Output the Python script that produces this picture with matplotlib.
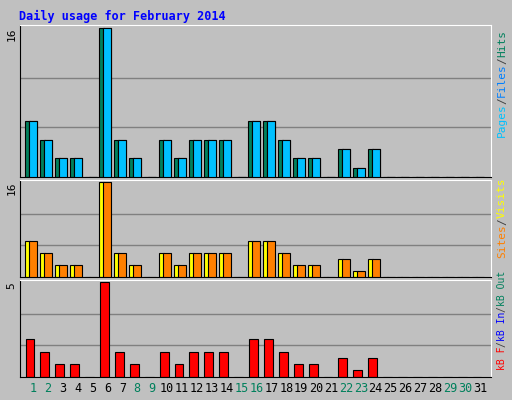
import matplotlib
matplotlib.use('Agg')
import matplotlib.pyplot as plt

days = list(range(1, 32))
hits = [6, 4, 2, 2, 0, 16, 4, 2, 0, 4, 2, 4, 4, 4, 0, 6, 6, 4, 2, 2, 0, 3, 1, 3, 0, 0, 0, 0, 0, 0, 0]
files = hits
pages = hits
visits = hits
sites = hits
kbytes = [2.0, 1.3, 0.7, 0.7, 0, 5.0, 1.3, 0.7, 0, 1.3, 0.7, 1.3, 1.3, 1.3, 0, 2.0, 2.0, 1.3, 0.7, 0.7,
          0, 1.0, 0.35, 1.0, 0, 0, 0, 0, 0, 0, 0]
weekend = [1, 2, 8, 9, 15, 16, 22, 23, 29, 30]

W, H = 512, 400
fig = plt.figure(figsize=(W / 100, H / 100), dpi=100, facecolor='#C0C0C0')

def ax_at(top, bottom):
    ax = fig.add_axes([20 / W, 1 - bottom / H, (491 - 20) / W, (bottom - top) / H])
    ax.set_facecolor('#C0C0C0')
    ax.set_xlim(0.13, 31.74)
    ax.set_xticks([])
    for s in ax.spines.values():
        s.set_color('black')
    ax.spines['top'].set_color('white')
    ax.spines['right'].set_color('white')
    return ax

mono = 'DejaVu Sans Mono'

def panel(ax, ymax, top_label):
    ax.set_ylim(0, ymax * 1.02)
    for g in (ymax / 3, 2 * ymax / 3):
        ax.axhline(g, color='#808080', lw=1, zorder=0)
    ax.set_yticks([])
    ax.text(-0.008, ymax * 1.0, top_label, transform=ax.get_yaxis_transform(), rotation=90,
            ha='right', va='top', family=mono, fontsize=8)

# top panel
ax1 = ax_at(25, 177)
panel(ax1, 16, '16')
ax1.bar([d - 0.37 for d in days], hits, width=0.34, color='#00805C', edgecolor='black', lw=0.8, zorder=2)
ax1.bar(days, files, width=0.54, color='#0080FF', edgecolor='black', lw=0.8, zorder=3)
ax1.bar(days, pages, width=0.54, color='#00C0FF', edgecolor='black', lw=0.8, zorder=4)

# middle panel
ax2 = ax_at(180, 277)
panel(ax2, 16, '16')
ax2.bar([d - 0.37 for d in days], visits, width=0.34, color='#FFFF00', edgecolor='black', lw=0.8, zorder=2)
ax2.bar(days, sites, width=0.54, color='#FF8000', edgecolor='black', lw=0.8, zorder=3)

# bottom panel
ax3 = ax_at(280, 377)
panel(ax3, 5, '5')
ax3.bar([d - 0.2 for d in days], kbytes, width=0.6, color='#FF0000', edgecolor='black', lw=0.8, zorder=2)

for d in days:
    fig.text((20 + (d - 0.13) * 471 / 31.61) / W, 1 - 389 / H, str(d), ha='center', va='center',
             family=mono, fontsize=8.5, color='#00805C' if d in weekend else 'black')

fig.text(19 / W, 1 - 16 / H, 'Daily usage for February 2014', family=mono, fontsize=8.5,
         fontweight='bold', color='#0000FF', va='center')

def side(parts, y_bottom, size):
    y = y_bottom
    step = size * 0.6 * 100 / 72
    for txt, col in parts:
        fig.text(502 / W, 1 - y / H, txt, rotation=90, ha='center', va='bottom',
                 family=mono, fontsize=size, color=col)
        y -= len(txt) * step

side([('Pages', '#00C0FF'), ('/', '#404040'), ('Files', '#0080FF'), ('/', '#404040'), ('Hits', '#00805C')], 137, 8)
side([('Sites', '#FF8000'), ('/', '#404040'), ('Visits', '#FFFF00')], 258, 8)
side([('kB F', '#FF0000'), ('/', '#404040'), ('kB In', '#0000FF'), ('/', '#404040'), ('kB Out', '#00805C')], 370, 7)

fig.savefig('out.png', dpi=100, facecolor=fig.get_facecolor())
